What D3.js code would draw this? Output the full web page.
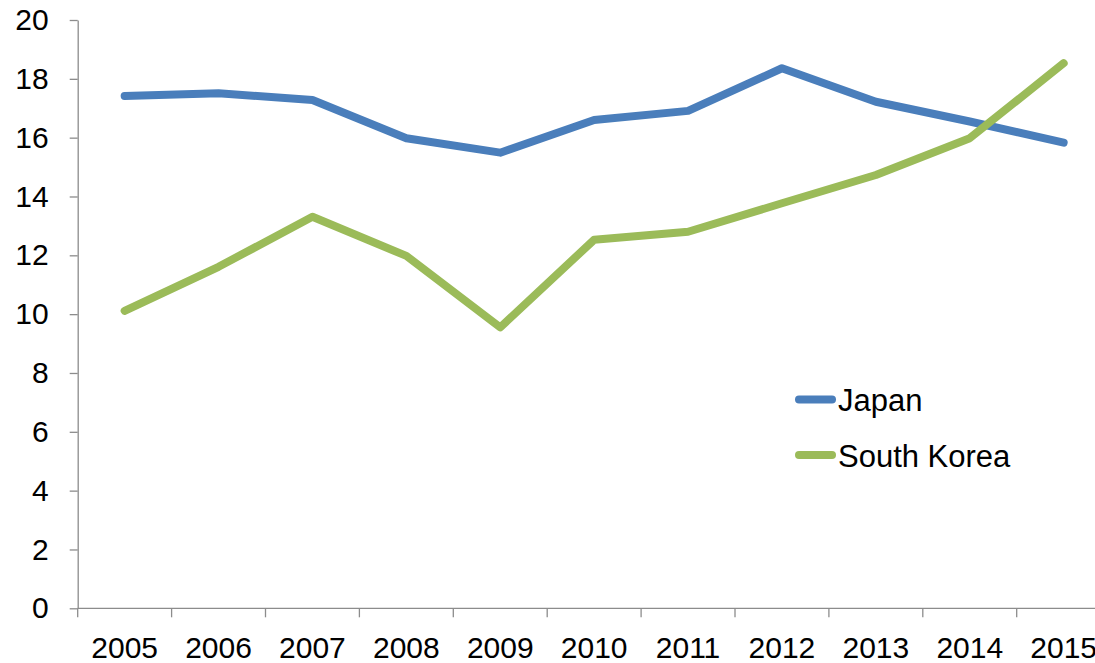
<!DOCTYPE html>
<html>
<head>
<meta charset="utf-8">
<script src="https://cdn.jsdelivr.net/npm/d3@7"></script>
<style>
  body { margin: 0; background: #fff; overflow: hidden; }
  svg { display: block; font-family: "Liberation Sans", Arial, sans-serif; }
</style>
</head>
<body>
<div id="chart"></div>
<script>
// data
const years = ["2005", "2006", "2007", "2008", "2009", "2010", "2011", "2012", "2013", "2014", "2015"];
const japan = [17.42, 17.51, 17.28, 15.98, 15.49, 16.6, 16.91, 18.36, 17.22, 16.55, 15.83];
const southKorea = [10.11, 11.61, 13.31, 11.98, 9.55, 12.53, 12.8, 13.77, 14.73, 15.98, 18.53];
const yTicks = [0, 2, 4, 6, 8, 10, 12, 14, 16, 18, 20];
const seriesNames = ["Japan", "South Korea"];
const seriesColors = ["#4a7ebb", "#9bbb59"];

const width = 1095, height = 663;
const plotLeft = 77.7, plotRight = 1110.6, plotTop = 20, plotBottom = 608.3;

const svg = d3.select("#chart").append("svg")
    .attr("width", width)
    .attr("height", height);

const x = d3.scaleBand()
    .domain(years)
    .range([plotLeft, plotRight]);

const y = d3.scaleLinear()
    .domain([0, 20])
    .range([plotBottom, plotTop]);

const axisColor = "#8c8c8c";

// y axis
const yAxis = svg.append("g")
    .attr("transform", `translate(${plotLeft},0)`)
    .call(d3.axisLeft(y).tickValues(yTicks).tickSize(8).tickPadding(21).tickSizeOuter(0));
yAxis.selectAll("text").attr("font-size", 30).attr("fill", "#000").attr("font-family", "Liberation Sans, Arial, sans-serif");
yAxis.selectAll("line, path").attr("stroke", axisColor).attr("stroke-width", 1.3);

// x axis: ticks sit on the category boundaries
const xAxis = svg.append("g")
    .attr("transform", `translate(0,${plotBottom})`);
xAxis.append("line")
    .attr("x1", plotLeft).attr("x2", plotRight)
    .attr("stroke", axisColor).attr("stroke-width", 1.3);
const bounds = years.map(d => x(d)).concat([x(years[years.length - 1]) + x.bandwidth()]);
xAxis.selectAll("line.tick")
    .data(bounds)
    .join("line")
    .attr("class", "tick")
    .attr("x1", d => d).attr("x2", d => d)
    .attr("y1", 0).attr("y2", 9)
    .attr("stroke", axisColor).attr("stroke-width", 1.3);
xAxis.selectAll("text")
    .data(years)
    .join("text")
    .attr("x", d => x(d) + x.bandwidth() / 2)
    .attr("y", 49.5)
    .attr("text-anchor", "middle")
    .attr("font-size", 30)
    .attr("fill", "#000")
    .text(d => d);

// lines
const line = d3.line()
    .x((d, i) => x(years[i]) + x.bandwidth() / 2)
    .y(d => y(d));

[japan, southKorea].forEach((vals, i) => {
  svg.append("path")
      .datum(vals)
      .attr("fill", "none")
      .attr("stroke", seriesColors[i])
      .attr("stroke-width", 8)
      .attr("stroke-linecap", "round")
      .attr("stroke-linejoin", "round")
      .attr("d", line);
});

// legend
const legend = svg.append("g").attr("transform", "translate(799,399.5)");
seriesNames.forEach((name, i) => {
  const g = legend.append("g").attr("transform", `translate(0,${i * 55.5})`);
  g.append("line")
      .attr("x1", 0).attr("x2", 33)
      .attr("stroke", seriesColors[i])
      .attr("stroke-width", 8)
      .attr("stroke-linecap", "round");
  g.append("text")
      .attr("x", 39)
      .attr("y", 11.5)
      .attr("font-size", 31)
      .attr("fill", "#000")
      .text(name);
});
</script>
</body>
</html>
